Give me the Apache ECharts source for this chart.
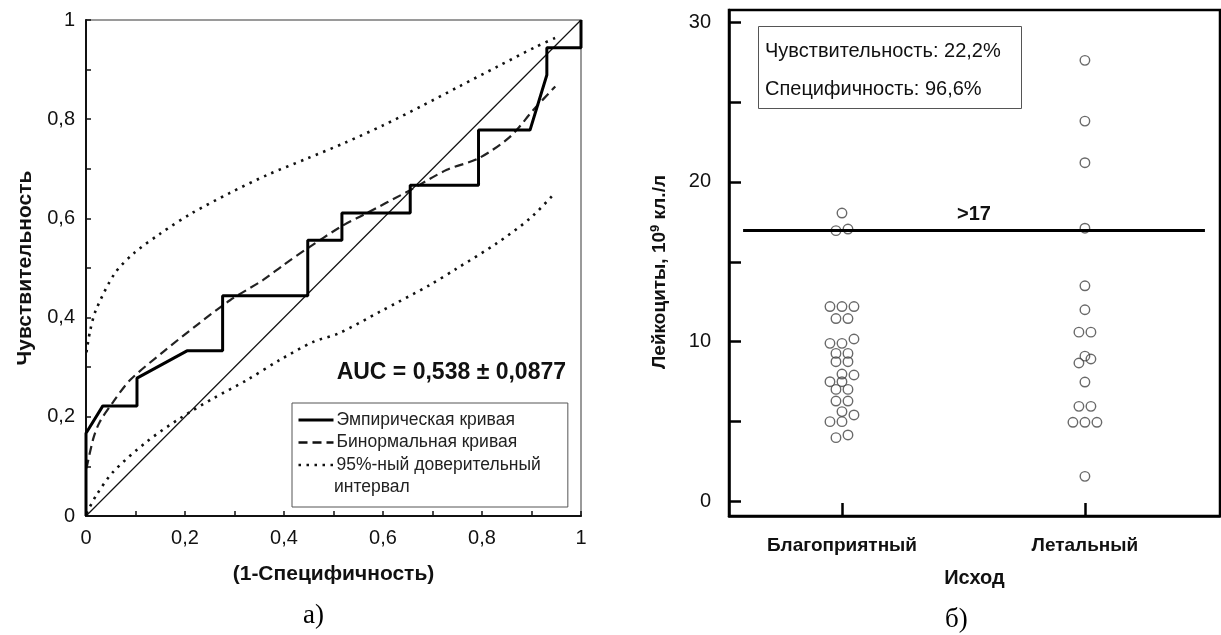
<!DOCTYPE html>
<html>
<head>
<meta charset="utf-8">
<script src="https://cdn.jsdelivr.net/npm/echarts@6/dist/echarts.min.js"></script>
<style>
html,body{margin:0;padding:0;background:#fff;}
#chart{width:1221px;height:635px;}
</style>
</head>
<body>
<div id="chart"></div>
<script>
// ---------- Panel a) ROC ----------
const rocTicks = [0, 0.2, 0.4, 0.6, 0.8, 1];
const diagonal = [[0, 0], [1, 1]];
const empirical = [[0,0],[0,0.167],[0.034,0.222],[0.103,0.222],[0.103,0.278],[0.204,0.333],[0.276,0.333],[0.276,0.444],[0.448,0.444],[0.448,0.556],[0.517,0.556],[0.517,0.611],[0.655,0.611],[0.655,0.667],[0.793,0.667],[0.793,0.778],[0.897,0.778],[0.931,0.889],[0.931,0.944],[1,0.944],[1,1]];
const binormal = [[0.001,0.096],[0.015,0.157],[0.028,0.19],[0.055,0.23],[0.089,0.274],[0.156,0.331],[0.224,0.385],[0.291,0.435],[0.358,0.476],[0.399,0.506],[0.448,0.54],[0.516,0.584],[0.56,0.607],[0.655,0.657],[0.729,0.698],[0.793,0.721],[0.857,0.765],[0.904,0.819],[0.948,0.866]];
const ciUpper = [[0.001,0.33],[0.008,0.372],[0.02,0.415],[0.058,0.489],[0.097,0.53],[0.151,0.57],[0.213,0.61],[0.29,0.651],[0.367,0.688],[0.445,0.72],[0.522,0.752],[0.599,0.787],[0.677,0.826],[0.754,0.866],[0.831,0.906],[0.909,0.946],[0.953,0.966]];
const ciLower = [[0.001,0.005],[0.021,0.042],[0.055,0.089],[0.123,0.15],[0.19,0.197],[0.257,0.237],[0.325,0.274],[0.392,0.315],[0.459,0.351],[0.51,0.368],[0.594,0.412],[0.695,0.466],[0.749,0.499],[0.83,0.55],[0.897,0.6],[0.947,0.651]];
const aucText = 'AUC = 0,538 ± 0,0877';
const legendNames = ['Эмпирическая кривая', 'Бинормальная кривая', '95%-ный доверительный'];
const legendExtra = 'интервал';

// ---------- Panel б) scatter ----------
const outcomeCategories = ['Благоприятный', 'Летальный'];
const favValues  = [18.05, 16.95, 17.05, 12.2, 12.2, 12.2, 11.45, 11.45, 10.17, 9.9, 9.9, 9.27, 9.27, 8.75, 8.75, 7.98, 7.92, 7.5, 7.5, 7.02, 7.02, 6.29, 6.29, 5.63, 5.42, 5.0, 5.0, 4.17, 4.0];
const favJitter  = [0, -1, 1, -2, 0, 2, -1, 1, 2, -2, 0, -1, 1, -1, 1, 0, 2, -2, 0, -1, 1, -1, 1, 0, 2, -2, 0, 1, -1];
const letValues  = [27.6, 23.8, 21.2, 17.1, 13.5, 12.0, 10.6, 10.6, 9.1, 8.92, 8.67, 7.48, 5.96, 5.96, 4.96, 4.96, 4.96, 1.58];
const letJitter  = [0, 0, 0, 0, 0, 0, -1, 1, 0, 1, -1, 0, -1, 1, -2, 0, 2, 0];
const yTicksB = [0, 5, 10, 15, 20, 25, 30];
const yLabelsB = [0, 10, 20, 30];
const threshold = 17;
const thresholdLabel = '>17';
const sensText = 'Чувствительность: 22,2%';
const specText = 'Специфичность: 96,6%';

const FONT = 'Liberation Sans, Arial, sans-serif';
const SERIF = 'Liberation Serif, Times New Roman, serif';
const jitterStep = 0.0247;

function toPts(vals, jit, cat) {
  return vals.map((v, i) => [cat + jit[i] * jitterStep, v]);
}
const fmtComma = v => String(+(+v).toFixed(2)).replace('.', ',');

const chart = echarts.init(document.getElementById('chart'), null, {renderer: 'canvas'});
const option = {
  animation: false,
  backgroundColor: '#fff',
  textStyle: {fontFamily: FONT},
  grid: [
    {left: 86, top: 20, width: 495, height: 496, show: true, borderColor: '#7a7a7a', borderWidth: 1.5, containLabel: false},
    {left: 729, top: 10, width: 491, height: 506, show: true, borderColor: '#000', borderWidth: 2.5, containLabel: false}
  ],
  xAxis: [
    {
      gridIndex: 0, type: 'value', min: 0, max: 1, interval: 0.2,
      name: '(1-Специфичность)', nameLocation: 'middle', nameGap: 48,
      nameTextStyle: {fontSize: 21, fontWeight: 'bold', color: '#111', fontFamily: FONT},
      axisLine: {show: true, onZero: false, lineStyle: {color: '#111', width: 2}},
      axisTick: {show: true, inside: true, length: 5, lineStyle: {color: '#111', width: 1.5}},
      minorTick: {show: true, splitNumber: 2, length: 5, lineStyle: {color: '#111', width: 1.5}},
      splitLine: {show: false},
      axisLabel: {fontSize: 20, color: '#111', margin: 12, formatter: fmtComma}
    },
    {
      gridIndex: 1, type: 'value', min: 0.535, max: 2.556,
      name: 'Исход', nameLocation: 'middle', nameGap: 52,
      nameTextStyle: {fontSize: 20, fontWeight: 'bold', color: '#111', fontFamily: FONT},
      axisLine: {show: true, onZero: false, lineStyle: {color: '#000', width: 2.5}},
      axisTick: {show: true, inside: true, length: 13, customValues: [1, 2], lineStyle: {color: '#000', width: 2.5}},
      splitLine: {show: false},
      axisLabel: {fontSize: 19, fontWeight: 'bold', color: '#111', margin: 20, customValues: [1, 2],
        formatter: v => outcomeCategories[Math.round(v) - 1]}
    }
  ],
  yAxis: [
    {
      gridIndex: 0, type: 'value', min: 0, max: 1, interval: 0.2,
      name: 'Чувствительность', nameLocation: 'middle', nameGap: 50, nameRotate: 90,
      nameTextStyle: {fontSize: 21, fontWeight: 'bold', color: '#111', fontFamily: FONT},
      axisLine: {show: true, onZero: false, lineStyle: {color: '#111', width: 2}},
      axisTick: {show: true, inside: true, length: 5, lineStyle: {color: '#111', width: 1.5}},
      minorTick: {show: true, splitNumber: 2, length: 5, lineStyle: {color: '#111', width: 1.5}},
      splitLine: {show: false},
      axisLabel: {fontSize: 20, color: '#111', margin: 11, formatter: fmtComma}
    },
    {
      gridIndex: 1, type: 'value', min: -0.9, max: 30.75,
      name: 'Лейкоциты, 10{sup|9} кл./л', nameLocation: 'middle', nameGap: 58, nameRotate: 90,
      nameTextStyle: {fontSize: 19, fontWeight: 'bold', color: '#111', fontFamily: FONT, padding: [0, 18, 0, 0],
        rich: {sup: {fontSize: 13, fontWeight: 'bold', color: '#111', fontFamily: FONT, padding: [0, 0, 9, 0]}}},
      axisLine: {show: true, onZero: false, lineStyle: {color: '#000', width: 2.5}},
      axisTick: {show: true, inside: true, length: 12, customValues: yTicksB, lineStyle: {color: '#000', width: 2.5}},
      splitLine: {show: false},
      axisLabel: {fontSize: 20, color: '#111', margin: 18, customValues: yLabelsB}
    }
  ],
  legend: {
    data: [
      {name: legendNames[0], lineStyle: {width: 3, color: '#000'}},
      {name: legendNames[1], lineStyle: {width: 2.5, color: '#111'}},
      {name: legendNames[2], lineStyle: {width: 2.4, color: '#111'}}
    ],
    orient: 'vertical', left: 292, top: 403,
    padding: [8, 27, 33, 5],
    itemGap: 4.5, itemWidth: 35, itemHeight: 14,
    borderColor: '#555', borderWidth: 1, backgroundColor: '#fff',
    itemStyle: {opacity: 0},
    textStyle: {fontSize: 17.5, color: '#222', fontFamily: FONT, padding: [0, 0, 0, -2]},
    selectedMode: false
  },
  graphic: [
    {type: 'text', left: 334, top: 478, z: 100, style: {text: legendExtra, font: '17.5px ' + FONT, fill: '#222'}},
    {type: 'text', right: 1221 - 566, top: 361, z: 100, style: {text: aucText, font: 'bold 23px ' + FONT, fill: '#111'}},
    {type: 'rect', left: 758, top: 26, z: 100, shape: {width: 263, height: 82}, style: {fill: '#fff', stroke: '#555', lineWidth: 1}},
    {type: 'text', left: 765, top: 41, z: 101, style: {text: sensText, font: '20px ' + FONT, fill: '#111'}},
    {type: 'text', left: 765, top: 79, z: 101, style: {text: specText, font: '20px ' + FONT, fill: '#111'}},
    {type: 'text', left: 303, top: 602, style: {text: 'а)', font: '27px ' + SERIF, fill: '#000'}},
    {type: 'text', left: 945, top: 606, style: {text: 'б)', font: '27px ' + SERIF, fill: '#000'}}
  ],
  series: [
    {type: 'line', name: 'diag', xAxisIndex: 0, yAxisIndex: 0, data: diagonal, symbol: 'none',
      lineStyle: {color: '#111', width: 1.2}, silent: true},
    {type: 'line', name: legendNames[2], xAxisIndex: 0, yAxisIndex: 0, data: ciUpper, symbol: 'none', smooth: 0.3,
      lineStyle: {color: '#111', width: 2.6, type: [2.5, 5.5]}, itemStyle: {color: '#111'}},
    {type: 'line', name: legendNames[2], xAxisIndex: 0, yAxisIndex: 0, data: ciLower, symbol: 'none', smooth: 0.3,
      lineStyle: {color: '#111', width: 2.6, type: [2.5, 5.5]}, itemStyle: {color: '#111'}},
    {type: 'line', name: legendNames[1], xAxisIndex: 0, yAxisIndex: 0, data: binormal, symbol: 'none', smooth: 0.3,
      lineStyle: {color: '#222', width: 2.2, type: [9, 5]}, itemStyle: {color: '#222'}},
    {type: 'line', name: legendNames[0], xAxisIndex: 0, yAxisIndex: 0, data: empirical, symbol: 'none',
      lineStyle: {color: '#000', width: 3}, itemStyle: {color: '#000'}},
    {type: 'scatter', name: outcomeCategories[0], xAxisIndex: 1, yAxisIndex: 1, data: toPts(favValues, favJitter, 1),
      symbol: 'circle', symbolSize: 9.5,
      itemStyle: {color: 'rgba(255,255,255,0)', borderColor: '#444', borderWidth: 1.4},
      markLine: {
        silent: true, symbol: 'none',
        lineStyle: {color: '#000', width: 2.8, type: 'solid'},
        label: {show: true, position: 'insideMiddleTop', formatter: thresholdLabel, fontSize: 20, fontWeight: 'bold', color: '#111', distance: 5, fontFamily: FONT},
        data: [[{coord: [0.593, threshold]}, {coord: [2.494, threshold]}]]
      }
    },
    {type: 'scatter', name: outcomeCategories[1], xAxisIndex: 1, yAxisIndex: 1, data: toPts(letValues, letJitter, 2),
      symbol: 'circle', symbolSize: 9.5,
      itemStyle: {color: 'rgba(255,255,255,0)', borderColor: '#444', borderWidth: 1.4}}
  ]
};
chart.setOption(option);
</script>
</body>
</html>
